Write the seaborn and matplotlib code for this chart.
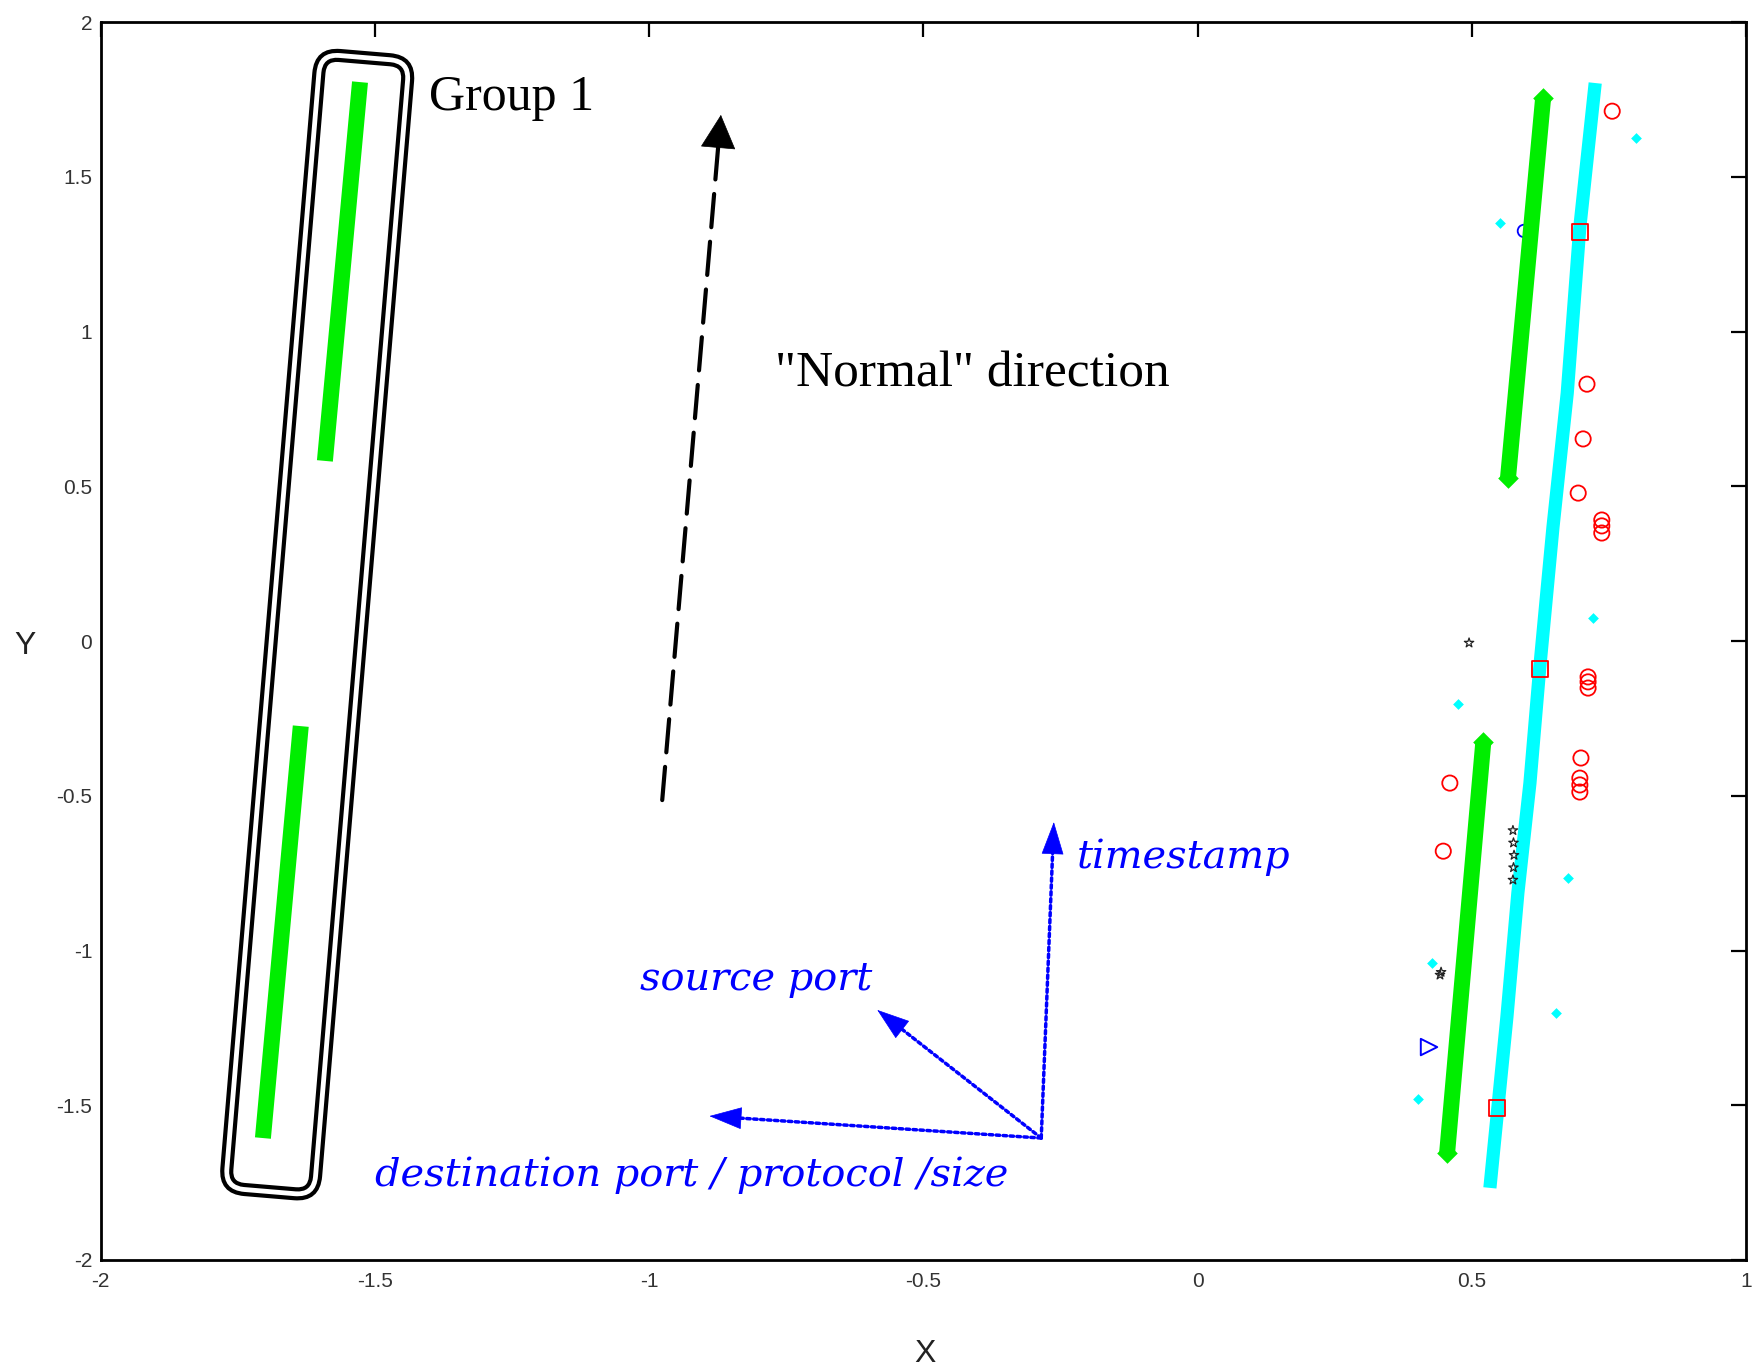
import matplotlib
matplotlib.use("Agg")
import matplotlib.pyplot as plt
import seaborn as sns
import pandas as pd
from matplotlib.patches import FancyBboxPatch
from matplotlib.transforms import Affine2D, ScaledTranslation

# ---------------------------------------------------------------- data
# Group 1: two flows in the left cluster (end points of each band)
group1_upper_x = [-1.527, -1.591]
group1_upper_y = [1.806, 0.582]
group1_lower_x = [-1.635, -1.704]
group1_lower_y = [-0.275, -1.606]

# Right cluster: green bands (end points)
green_upper_x = [0.630, 0.566]
green_upper_y = [1.754, 0.527]
green_lower_x = [0.521, 0.455]
green_lower_y = [-0.326, -1.654]

# Right cluster: cyan band trace
cyan_band_x = [0.725, 0.697, 0.674, 0.648, 0.624, 0.606, 0.584, 0.564, 0.533]
cyan_band_y = [1.803, 1.338, 0.801, 0.368, -0.084, -0.459, -0.814, -1.215, -1.767]

# cyan '+' points scattered along the band
cyan_plus_x = [0.725, 0.721, 0.719, 0.710, 0.706, 0.701, 0.683, 0.675, 0.674, 0.664,
               0.591, 0.588, 0.584, 0.575, 0.570, 0.570, 0.564, 0.557, 0.555]
cyan_plus_y = [1.790, 1.683, 1.628, 1.532, 1.467, 1.415, 1.060, 0.940, 0.898, 0.640,
               -0.782, -0.892, -0.943, -1.031, -1.118, -1.192, -1.257, -1.396, -1.428]

# isolated cyan points
cyan_dot_x = [0.800, 0.551, 0.721, 0.474, 0.676, 0.428, 0.654, 0.402]
cyan_dot_y = [1.625, 1.351, 0.074, -0.204, -0.766, -1.040, -1.202, -1.480]

# red circles
red_circle_x = [0.756, 0.710, 0.703, 0.694, 0.737, 0.737, 0.737, 0.712, 0.712, 0.712,
                0.699, 0.697, 0.697, 0.697, 0.460, 0.448]
red_circle_y = [1.712, 0.830, 0.653, 0.478, 0.391, 0.372, 0.349, -0.116, -0.132, -0.152,
                -0.378, -0.443, -0.465, -0.488, -0.459, -0.679]

# red squares
red_square_x = [0.697, 0.624, 0.546]
red_square_y = [1.321, -0.090, -1.509]

# green '+'
green_plus_x = [0.373, 0.360, 0.333, 0.276, 0.263, 0.236]
green_plus_y = [1.502, 1.234, 0.708, -0.352, -0.620, -1.150]

# blue '+'
blue_plus_x = [0.490, 0.490, 0.490, 0.474, 0.474, 0.474, 0.474]
blue_plus_y = [0.433, 0.410, 0.384, 0.126, 0.109, 0.094, 0.074]

# magenta '+' and 'x'
magenta_plus_x = [0.548, 0.539, 0.539]
magenta_plus_y = [0.339, 0.155, 0.162]
magenta_x_x = [0.555]
magenta_x_y = [0.569]

# black stars
black_star_x = [0.495, 0.442, 0.444, 0.575, 0.576, 0.577, 0.576, 0.575]
black_star_y = [-0.006, -1.079, -1.070, -0.612, -0.652, -0.692, -0.732, -0.772]

# single blue markers
blue_circle_x = [0.595]
blue_circle_y = [1.325]
blue_tri_x = [0.422]
blue_tri_y = [-1.312]

# annotation geometry (data units)
normal_arrow = [(-0.976, -0.514), (-0.869, 1.700)]
axis_origin = (-0.285, -1.606)
axis_tips = {"timestamp": (-0.262, -0.585),
             "source port": (-0.584, -1.192),
             "destination port / protocol /size": (-0.890, -1.535)}
axis_text_pos = {"timestamp": (-0.220, -0.733),
                 "source port": (-1.016, -1.128),
                 "destination port / protocol /size": (-1.500, -1.761)}
group_box_center = (-1.605, 0.053)

xticks = [-2, -1.5, -1, -0.5, 0, 0.5, 1]
xtick_labels = ["-2", "-1.5", "-1", "-0.5", "0", "0.5", "1"]
yticks = [-2, -1.5, -1, -0.5, 0, 0.5, 1, 1.5, 2]
ytick_labels = ["-2", "-1.5", "-1", "-0.5", "0", "0.5", "1", "1.5", "2"]

# ---------------------------------------------------------------- style
sns.set_theme(style="white")
plt.rcParams["font.family"] = ["Liberation Sans", "DejaVu Sans"]

GREEN = "#00ee00"
CYAN = "#00ffff"

fig = plt.figure(figsize=(17.52, 13.70), dpi=100)
ax = fig.add_axes([0.0574, 0.0803, 0.9392, 0.9036])


def band(x, y, color, lw, ends=False):
    df = pd.DataFrame({"x": x, "y": y})
    sns.lineplot(data=df, x="x", y="y", ax=ax, color=color, lw=lw,
                 sort=False, estimator=None, solid_capstyle="butt", zorder=3)
    if ends:
        sns.scatterplot(data=df, x="x", y="y", ax=ax, color=color, marker="D",
                        s=110, linewidth=0, zorder=3)


def points(x, y, marker, color, s, lw=1.3, filled=False, z=4):
    df = pd.DataFrame({"x": x, "y": y})
    if filled:
        sns.scatterplot(data=df, x="x", y="y", ax=ax, marker=marker, color=color,
                        s=s, linewidth=0, zorder=z)
    else:
        sns.scatterplot(data=df, x="x", y="y", ax=ax, marker=marker, s=s,
                        facecolors="none", edgecolor=color, color=color,
                        linewidth=lw, zorder=z)


def arrow(start, tip, color, lw, ls, head_len, head_w):
    """Patterned shaft plus a clean solid head."""
    frac = 0.045 if color == "black" else 0.09
    base = (tip[0] - frac * (tip[0] - start[0]), tip[1] - frac * (tip[1] - start[1]))
    ax.annotate("", xy=base, xytext=start,
                arrowprops=dict(arrowstyle="-", color=color, lw=lw, linestyle=ls,
                                shrinkA=0, shrinkB=0))
    ax.annotate("", xy=tip, xytext=base,
                arrowprops=dict(arrowstyle=f"-|>,head_length={head_len},head_width={head_w}",
                                mutation_scale=1, color=color, lw=0.5,
                                shrinkA=0, shrinkB=0))


# blue marker partly covered by the green band
points(blue_circle_x, blue_circle_y, "o", "blue", 80, lw=1.3, z=2)

# left group bands
band(group1_upper_x, group1_upper_y, GREEN, 11.5)
band(group1_lower_x, group1_lower_y, GREEN, 11.5)

# right cluster bands
band(cyan_band_x, cyan_band_y, CYAN, 9.5)
band(green_upper_x, green_upper_y, GREEN, 11.5, ends=True)
band(green_lower_x, green_lower_y, GREEN, 11.5, ends=True)

points(cyan_plus_x, cyan_plus_y, "+", CYAN, 380, lw=2.2)
points(cyan_dot_x, cyan_dot_y, "D", CYAN, 30, filled=True)
points(red_circle_x, red_circle_y, "o", "red", 120, lw=1.3)
points(red_square_x, red_square_y, "s", "red", 130, lw=1.3)
points(green_plus_x, green_plus_y, "+", GREEN, 150, lw=1.6)
points(blue_plus_x, blue_plus_y, "+", "blue", 140, lw=1.8)
points(magenta_plus_x, magenta_plus_y, "+", "magenta", 150, lw=1.8)
points(magenta_x_x, magenta_x_y, "x", "magenta", 80, lw=1.5)
points(black_star_x, black_star_y, "*", "#222222", 50, lw=0.9)
points(blue_tri_x, blue_tri_y, ">", "blue", 140, lw=1.4)


# rounded double frame around Group 1 (pixel sized, tilted with the group)
def tilted_box(w, h, r):
    box = FancyBboxPatch((-w / 2, -h / 2), w, h,
                         boxstyle=f"round,pad=0,rounding_size={r}",
                         fill=False, ec="black", lw=3.0, zorder=5)
    box.set_transform(Affine2D().rotate_deg(-4.8)
                      + ScaledTranslation(group_box_center[0], group_box_center[1],
                                          ax.transData))
    ax.add_patch(box)


tilted_box(98, 1147, 24)
tilted_box(80, 1129, 14)

ax.text(-1.401, 1.716, "Group 1", family="Liberation Serif", fontsize=36,
        color="black", va="baseline", ha="left")

# "Normal" direction arrow
arrow(normal_arrow[0], normal_arrow[1], "black", 3, (0, (8, 3.5)), 23, 12)
ax.text(-0.770, 0.821, '"Normal" direction', family="Liberation Serif",
        fontsize=37, color="black", va="baseline", ha="left")

# feature axes
for name, tip in axis_tips.items():
    arrow(axis_origin, tip, "blue", 2.5, (0, (1, 1)), 22, 7.5)
    tx, ty = axis_text_pos[name]
    ax.text(tx, ty, name, family="DejaVu Serif", style="italic", fontsize=28.7,
            color="blue", va="baseline", ha="left")

# axes
ax.set_xlim(-2, 1)
ax.set_ylim(-2, 2)
ax.set_xticks(xticks)
ax.set_xticklabels(xtick_labels)
ax.set_yticks(yticks)
ax.set_yticklabels(ytick_labels)
ax.tick_params(direction="in", length=11, width=1.6, top=True, right=True,
               labelsize=15, labelcolor="#333333", color="black")
ax.tick_params(axis="x", pad=9)
ax.tick_params(axis="y", pad=6)
for sp in ax.spines.values():
    sp.set_color("black")
    sp.set_linewidth(2.0)

ax.set_xlabel("X", fontsize=23, color="#222222")
ax.set_ylabel("Y", fontsize=23, color="#222222", rotation=0, ha="center", va="center")
ax.xaxis.set_label_coords(0.501, -0.064)
ax.yaxis.set_label_coords(-0.0459, 0.496)

fig.savefig("out.png", dpi=100, facecolor="white")
